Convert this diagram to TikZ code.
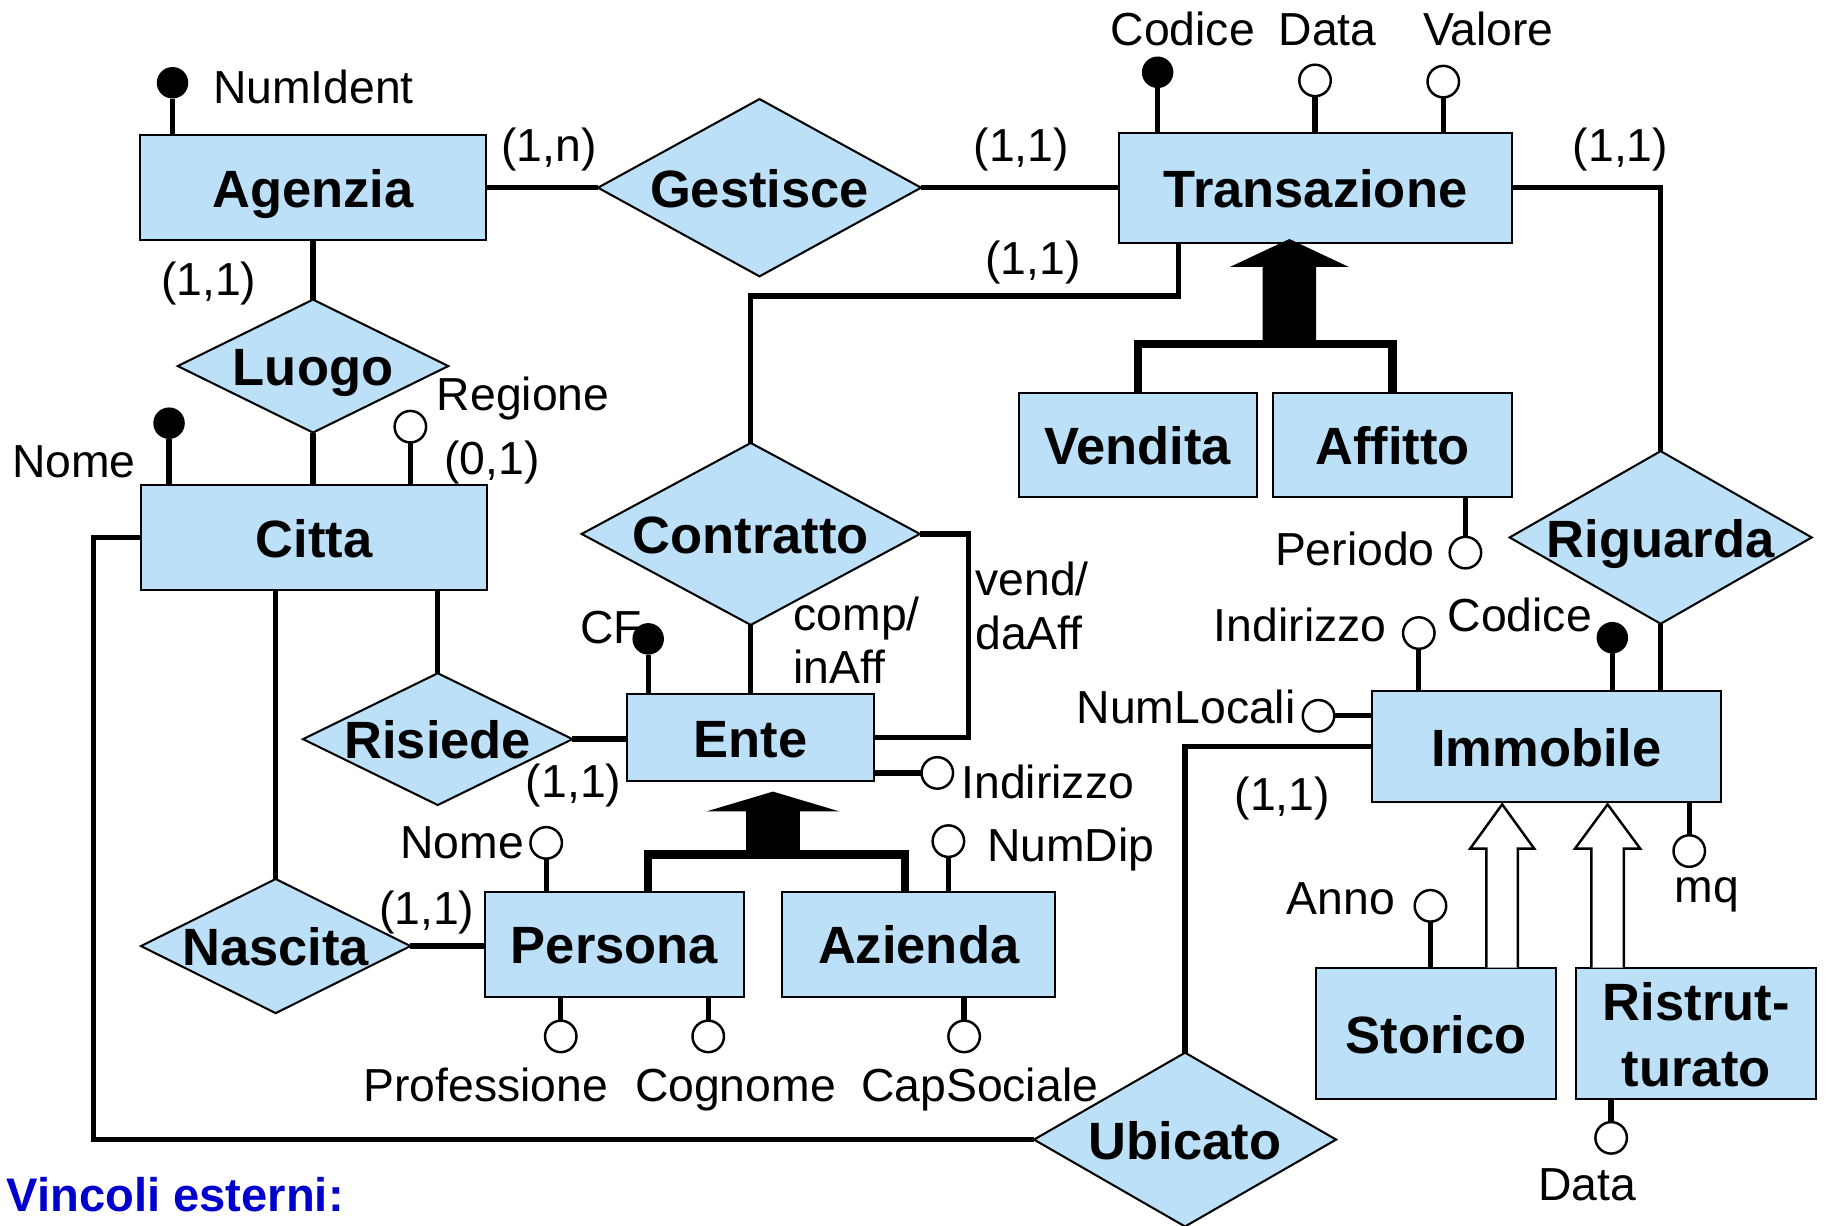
\documentclass[tikz,border=0pt]{standalone}
\usepackage{fontspec}
\setmainfont{Liberation Sans}
\usetikzlibrary{shapes.geometric,calc}
\definecolor{ebl}{RGB}{187,224,248}
\definecolor{vblue}{RGB}{0,0,204}
\newcommand\lfnt{\fontsize{11.3}{13}\selectfont}
\newcommand\bfnt{\fontsize{12.8}{15}\selectfont\bfseries}
\tikzset{
 ent/.style={rectangle, draw=black, line width=0.5pt, fill=ebl, inner sep=0pt, outer sep=0pt, font=\bfnt, text height=11.6pt, text depth=2pt},
 rel/.style={diamond, draw=black, line width=0.5pt, fill=ebl, inner sep=0pt, outer sep=0pt},
 rtxt/.style={font=\bfnt, inner sep=0pt, text height=11.6pt, text depth=2pt},
 btxt/.style={font=\bfnt, inner sep=0pt},
 lbl/.style={font=\lfnt, inner sep=0pt},
 conn/.style={line width=1.3pt},
 isal/.style={line width=2pt},
 keyat/.style={circle, fill=black, minimum size=0.27cm, inner sep=0pt, outer sep=0pt},
 att/.style={circle, draw=black, line width=0.6pt, fill=white, minimum size=0.27cm, inner sep=0pt, outer sep=0pt},
 hollow/.style={draw=black, line width=0.6pt, fill=white, line join=miter},
}
\begin{document}
\begin{tikzpicture}[x=0.01cm, y=-0.01cm]
\useasboundingbox (0,0) rectangle (1568,1051.6);

% entities
\node[ent, minimum width=2.97cm, minimum height=0.90cm] (agenzia) at (268.5,161) {Agenzia};
\node[ent, minimum width=3.37cm, minimum height=0.94cm] (transazione) at (1128.5,161) {Transazione};
\node[ent, minimum width=2.97cm, minimum height=0.90cm] (citta) at (269.5,461) {Citta};
\node[ent, minimum width=2.12cm, minimum height=0.75cm] (ente) at (644,632.5) {Ente};
\node[ent, minimum width=2.04cm, minimum height=0.89cm] (vendita) at (976,381.5) {Vendita};
\node[ent, minimum width=2.05cm, minimum height=0.89cm] (affitto) at (1194.5,381.5) {Affitto};
\node[ent, minimum width=2.99cm, minimum height=0.95cm] (immobile) at (1326.5,640.5) {Immobile};
\node[ent, minimum width=2.215cm, minimum height=0.90cm] (persona) at (527,810) {Persona};
\node[ent, minimum width=2.34cm, minimum height=0.90cm] (azienda) at (788,810) {Azienda};
\node[ent, minimum width=2.06cm, minimum height=1.13cm] (storico) at (1232,886.5) {Storico};
\node[ent, minimum width=2.06cm, minimum height=1.13cm] (ristr) at (1455,886.5) {};
\node[btxt, anchor=base] (t-ristr1) at (1455,875) {Ristrut-};
\node[btxt, anchor=base] (t-ristr2) at (1455,932) {turato};

% relationships
\node[rel, minimum width=2.77cm, minimum height=1.52cm] (gestisce) at (651.5,161) {};
\node[rtxt] (t-gestisce) at (gestisce) {Gestisce};
\node[rel, minimum width=2.32cm, minimum height=1.14cm] (luogo) at (268.5,314) {};
\node[rtxt] (t-luogo) at (luogo) {Luogo};
\node[rel, minimum width=2.90cm, minimum height=1.56cm] (contratto) at (644,458) {};
\node[rtxt] (t-contratto) at (contratto) {Contratto};
\node[rel, minimum width=2.31cm, minimum height=1.13cm] (risiede) at (375.5,634) {};
\node[rtxt] (t-risiede) at (risiede) {Risiede};
\node[rel, minimum width=2.59cm, minimum height=1.48cm] (riguarda) at (1424.5,461) {};
\node[rtxt] (t-riguarda) at (riguarda) {Riguarda};
\node[rel, minimum width=2.31cm, minimum height=1.15cm] (nascita) at (236.5,811.5) {};
\node[rtxt] (t-nascita) at (nascita) {Nascita};
\node[rel, minimum width=2.59cm, minimum height=1.49cm] (ubicato) at (1016.5,977.5) {};
\node[rtxt] (t-ubicato) at (ubicato) {Ubicato};

% connectors
\draw[conn] (agenzia.east) -- (gestisce.west);
\draw[conn] (gestisce.east) -- (transazione.west);
\draw[conn] (agenzia.south) -- (luogo.north);
\draw[conn] (luogo.south) -- (luogo.south |- citta.north);
\draw[conn] (transazione.east) -| (riguarda.north);
\draw[conn] (riguarda.south) -- (riguarda.south |- immobile.north);
\draw[conn] ([xshift=-1.175cm]transazione.south) -- ++(0,46) -| (contratto.north);
\draw[conn] (contratto.south) -- (ente.north);
\draw[conn] (contratto.east) -- ++(41.5,0) |- (ente.east);
\draw[conn] (risiede.north) -- (risiede.north |- citta.south);
\draw[conn] (risiede.east) -- (risiede.east -| ente.west);
\draw[conn] (nascita.north) -- (nascita.north |- citta.south);
\draw[conn] (nascita.east) -- (nascita.east -| persona.west);
\draw[conn] (citta.west) -- ++(-41,0) |- (ubicato.west);
\draw[conn] (immobile.west) -| (ubicato.north);

% generalizations
\draw[isal] (vendita.north) -- ++(0,-42) -| (affitto.north);
\coordinate (isaT) at (1106,295);
\fill (isaT) ++(-23,1) -- ++(0,-67) -- ++(-28,0) -- ++(51,-24) -- ++(51,24) -- ++(-28,0) -- ++(0,67) -- cycle;
\draw[isal] ([xshift=0.29cm]persona.north) -- ++(0,-32) -| ([xshift=-0.12cm]azienda.north);
\coordinate (isaE) at (663,733);
\fill (isaE) ++(-23,1) -- ++(0,-38) -- ++(-34,0) -- ++(57,-17) -- ++(57,17) -- ++(-34,0) -- ++(0,38) -- cycle;
\draw[hollow] ([xshift=0.565cm]storico.north) ++(-13.5,0) -- ++(0,-102) -- ++(-14,0) -- ++(27.5,-38) -- ++(27.5,38) -- ++(-14,0) -- ++(0,102);
\draw[hollow] ([xshift=-0.76cm]ristr.north) ++(-14,0) -- ++(0,-102) -- ++(-14,0) -- ++(28,-38) -- ++(28,38) -- ++(-14,0) -- ++(0,102);

% labels
\node[lbl, anchor=base west] (l-numident) at (182,88.7) {NumIdent};
\node[lbl] (c-agges) at (471,128) {(1,n)};
\node[lbl] (c-gestr) at (876,128) {(1,1)};
\node[lbl] (c-trrig) at (1390,128) {(1,1)};
\node[lbl] (c-trcon) at (886,225) {(1,1)};
\node[lbl] (c-agluo) at (179,243) {(1,1)};
\node[lbl, anchor=base west] (l-regione) at (374,352) {Regione};
\node[lbl, anchor=base east] (l-nomec) at (117,410) {Nome};
\node[lbl] (c-citluo) at (422,397) {(0,1)};
\node[lbl] (c-risente) at (492,674) {(1,1)};
\node[lbl, anchor=base west] (l-cf) at (497,552) {CF};
\node[lbl, anchor=base west] (l-comp) at (680,541) {comp/};
\node[lbl, anchor=base west] (l-inaff) at (680,586) {inAff};
\node[lbl, anchor=base west] (l-vend) at (836,511) {vend/};
\node[lbl, anchor=base west] (l-daaff) at (836,557) {daAff};
\node[lbl, anchor=base west] (l-indente) at (824,685) {Indirizzo};
\node[lbl, anchor=base west] (l-periodo) at (1093,485) {Periodo};
\node[lbl, anchor=base east] (l-indimm) at (1190,550) {Indirizzo};
\node[lbl, anchor=base west] (l-codimm) at (1241,542) {Codice};
\node[lbl, anchor=base east] (l-numloc) at (1112,621) {NumLocali};
\node[lbl] (c-immubi) at (1100,685) {(1,1)};
\node[lbl, anchor=base] (l-mq) at (1464,774) {mq};
\node[lbl, anchor=base west] (l-anno) at (1103,784) {Anno};
\node[lbl, anchor=base west] (l-datar) at (1319,1030) {Data};
\node[lbl, anchor=base east] (l-nomep) at (450,736) {Nome};
\node[lbl] (c-nascpers) at (366,783) {(1,1)};
\node[lbl, anchor=base west] (l-prof) at (311,945) {Professione};
\node[lbl, anchor=base west] (l-cogn) at (544,945) {Cognome};
\node[lbl, anchor=base west] (l-capsoc) at (738,945) {CapSociale};
\node[lbl, anchor=base west] (l-numdip) at (846,739) {NumDip};
\node[lbl, anchor=base west] (l-codt) at (952,39) {Codice};
\node[lbl, anchor=base west] (l-datat) at (1096,39) {Data};
\node[lbl, anchor=base west] (l-valore) at (1220,39) {Valore};
\node[font=\fontsize{11.5}{13}\selectfont\bfseries, text=vblue, inner sep=0pt, anchor=base west] (vincoli) at (5,1039) {Vincoli esterni:};

% attributes
\node[keyat] (a-numident) at (148,71) {};
\draw[conn] (a-numident) -- (a-numident |- agenzia.north);
\node[keyat] (a-codt) at (993,62) {};
\draw[conn] (a-codt) -- (a-codt |- transazione.north);
\node[att] (a-datat) at (1128,69) {};
\draw[conn] (a-datat) -- (a-datat |- transazione.north);
\node[att] (a-valore) at (1238,70) {};
\draw[conn] (a-valore) -- (a-valore |- transazione.north);
\node[keyat] (a-nomec) at (145,363) {};
\draw[conn] (a-nomec) -- (a-nomec |- citta.north);
\node[att] (a-regione) at (352,366) {};
\draw[conn] (a-regione) -- (a-regione |- citta.north);
\node[keyat] (a-cf) at (556,548) {};
\draw[conn] (a-cf) -- (a-cf |- ente.north);
\node[att] (a-indente) at (804,663) {};
\draw[conn] (a-indente) -- (a-indente -| ente.east);
\node[att] (a-nomep) at (468.5,723) {};
\draw[conn] (a-nomep) -- (a-nomep |- persona.north);
\node[att] (a-prof) at (481,889) {};
\draw[conn] (a-prof) -- (a-prof |- persona.south);
\node[att] (a-cogn) at (607.5,889) {};
\draw[conn] (a-cogn) -- (a-cogn |- persona.south);
\node[att] (a-numdip) at (813.5,721.5) {};
\draw[conn] (a-numdip) -- (a-numdip |- azienda.north);
\node[att] (a-capsoc) at (827,889) {};
\draw[conn] (a-capsoc) -- (a-capsoc |- azienda.south);
\node[att] (a-periodo) at (1257,474) {};
\draw[conn] (a-periodo) -- (a-periodo |- affitto.south);
\node[att] (a-indimm) at (1217,543) {};
\draw[conn] (a-indimm) -- (a-indimm |- immobile.north);
\node[keyat] (a-codimm) at (1383,547) {};
\draw[conn] (a-codimm) -- (a-codimm |- immobile.north);
\node[att] (a-numloc) at (1131,614) {};
\draw[conn] (a-numloc) -- (a-numloc -| immobile.west);
\node[att] (a-mq) at (1449,730) {};
\draw[conn] (a-mq) -- (a-mq |- immobile.south);
\node[att] (a-anno) at (1227,777) {};
\draw[conn] (a-anno) -- (a-anno |- storico.north);
\node[att] (a-datar) at (1382,976) {};
\draw[conn] (a-datar) -- (a-datar |- ristr.south);
\end{tikzpicture}
\end{document}
